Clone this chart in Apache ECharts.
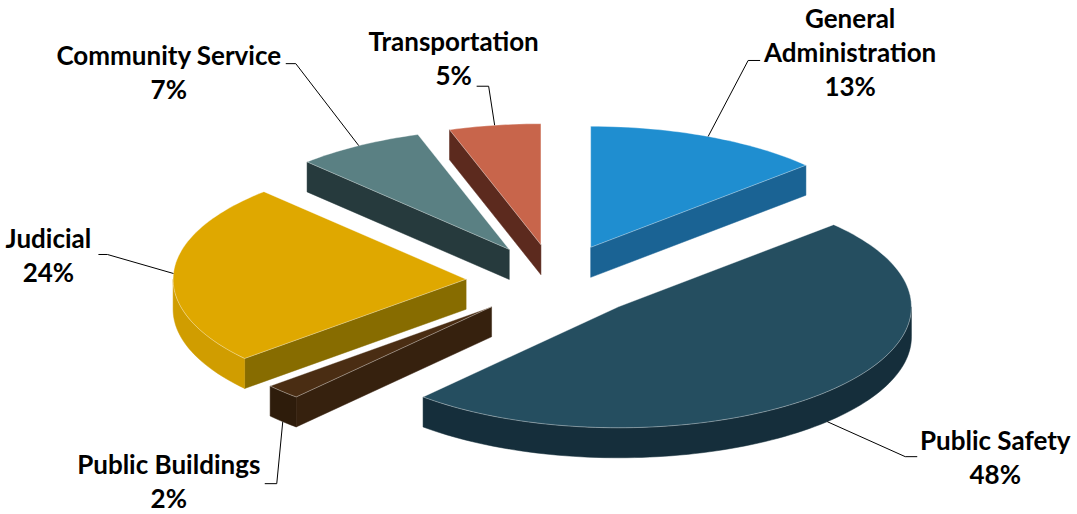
<!DOCTYPE html>
<html>
<head>
<meta charset="utf-8">
<title>Expenditures by Function</title>
<script src="https://cdn.jsdelivr.net/npm/echarts@6/dist/echarts.min.js"></script>
<style>
  html, body { margin: 0; padding: 0; background: #ffffff; }
  #chart { width: 1077px; height: 514px; }
</style>
</head>
<body>
<div id="chart"></div>
<script>
// Share of spending by function, in percent, clockwise from 12 o'clock
const categories = ['General Administration', 'Public Safety', 'Public Buildings', 'Judicial', 'Community Service', 'Transportation'];
const labelText = ['General\nAdministration', 'Public Safety', 'Public Buildings', 'Judicial', 'Community Service', 'Transportation'];
const shares = [13, 48, 2, 24, 7, 5];

// Face colours: top face, radial side faces, outer rim
const topColors = ['#1F8ED0', '#254E60', '#4A2D13', '#DFA800', '#5A8083', '#C8654B'];
const sideColors = ['#1A6394', '#17313E', '#36210E', '#876C00', '#263A3D', '#5C2A1E'];
const rimColors = ['#176090', '#152E3B', '#2E1C0B', '#D09D00', '#2A4245', '#6A3022'];

// Leader lines: elbow offset from the slice anchor, horizontal tail, label centre offset from tail end
const leaderElbow = [[40, -76], [78, 35], [-6, 62], [-66, -19], [-63, -82], [-6, -39]];
const leaderTail = [12, 12, -12, -9, -10, -12];
const labelOffset = [[90, -8], [78, 0], [-96, -3], [-50, 1], [-117, 8], [-23, -28]];

// Pie geometry (pixels)
const CX = 555, CY = 281, RX = 293, RY = 121, DEPTH = 30, EXPLODE = 89;

const total = shares.reduce((s, v) => s + v, 0);
const startAngles = [];
let acc = 0;
shares.forEach(v => { startAngles.push(acc / total * 360); acc += v; });

const rad = d => d * Math.PI / 180;

function renderSlice(params, api) {
  const i = params.dataIndex;
  const a = startAngles[i];
  const b = a + api.value(0) / total * 360;
  const m = (a + b) / 2;
  const ox = CX + EXPLODE * Math.sin(rad(m));
  const oy = CY - EXPLODE * (RY / RX) * Math.cos(rad(m));
  const pt = (t, dz) => [ox + RX * Math.sin(rad(t)), oy - RY * Math.cos(rad(t)) + (dz || 0)];
  const arc = (t0, t1, dz) => {
    const pts = [];
    const n = Math.max(2, Math.ceil((t1 - t0) / 1.5));
    for (let k = 0; k <= n; k++) pts.push(pt(t0 + (t1 - t0) * k / n, dz));
    return pts;
  };
  const base = Math.round(oy) * 4;
  const children = [];

  // radial side faces facing the viewer
  if (Math.sin(rad(a)) < -1e-6) {
    const p = pt(a);
    children.push({
      type: 'polygon', z2: base,
      shape: { points: [[ox, oy], p, [p[0], p[1] + DEPTH], [ox, oy + DEPTH]] },
      style: { fill: sideColors[i], stroke: sideColors[i], lineWidth: 0.5 }
    });
  }
  if (Math.sin(rad(b)) > 1e-6) {
    const p = pt(b);
    children.push({
      type: 'polygon', z2: base,
      shape: { points: [[ox, oy], p, [p[0], p[1] + DEPTH], [ox, oy + DEPTH]] },
      style: { fill: sideColors[i], stroke: sideColors[i], lineWidth: 0.5 }
    });
  }
  // outer rim on the near half of the ellipse
  const r0 = Math.max(a, 90), r1 = Math.min(b, 270);
  if (r1 > r0) {
    const top = arc(r0, r1, 0);
    const bottom = arc(r0, r1, DEPTH).reverse();
    children.push({
      type: 'polygon', z2: base + 1,
      shape: { points: top.concat(bottom) },
      style: { fill: rimColors[i], stroke: rimColors[i], lineWidth: 0.5 }
    });
  }
  // top face
  children.push({
    type: 'polygon', z2: base + 2,
    shape: { points: [[ox, oy]].concat(arc(a, b, 0)) },
    style: { fill: topColors[i], stroke: 'rgba(255,255,255,0.6)', lineWidth: 0.6 }
  });

  // leader line and label
  const front = Math.cos(rad(m)) < -0.3;
  const anchor = pt(m, front ? DEPTH : 0);
  const elbow = [anchor[0] + leaderElbow[i][0], anchor[1] + leaderElbow[i][1]];
  const tail = [elbow[0] + leaderTail[i], elbow[1]];
  children.push({
    type: 'polyline', z2: 5000,
    shape: { points: [anchor, elbow, tail] },
    style: { stroke: '#000000', lineWidth: 1, fill: null }
  });
  children.push({
    type: 'text', z2: 5001,
    x: tail[0] + labelOffset[i][0],
    y: tail[1] + labelOffset[i][1],
    style: {
      text: labelText[i] + '\n' + api.value(0) + '%',
      fill: '#000000',
      font: 'bold 26px Lato',
      lineHeight: 34,
      align: 'center',
      verticalAlign: 'middle'
    }
  });
  return { type: 'group', children };
}

const chart = echarts.init(document.getElementById('chart'), null, { renderer: 'svg' });
chart.setOption({
  backgroundColor: '#ffffff',
  animation: false,
  series: [{
    type: 'custom',
    coordinateSystem: 'none',
    renderItem: renderSlice,
    data: shares.map((v, i) => ({ name: categories[i], value: [v] }))
  }]
});
</script>
</body>
</html>
